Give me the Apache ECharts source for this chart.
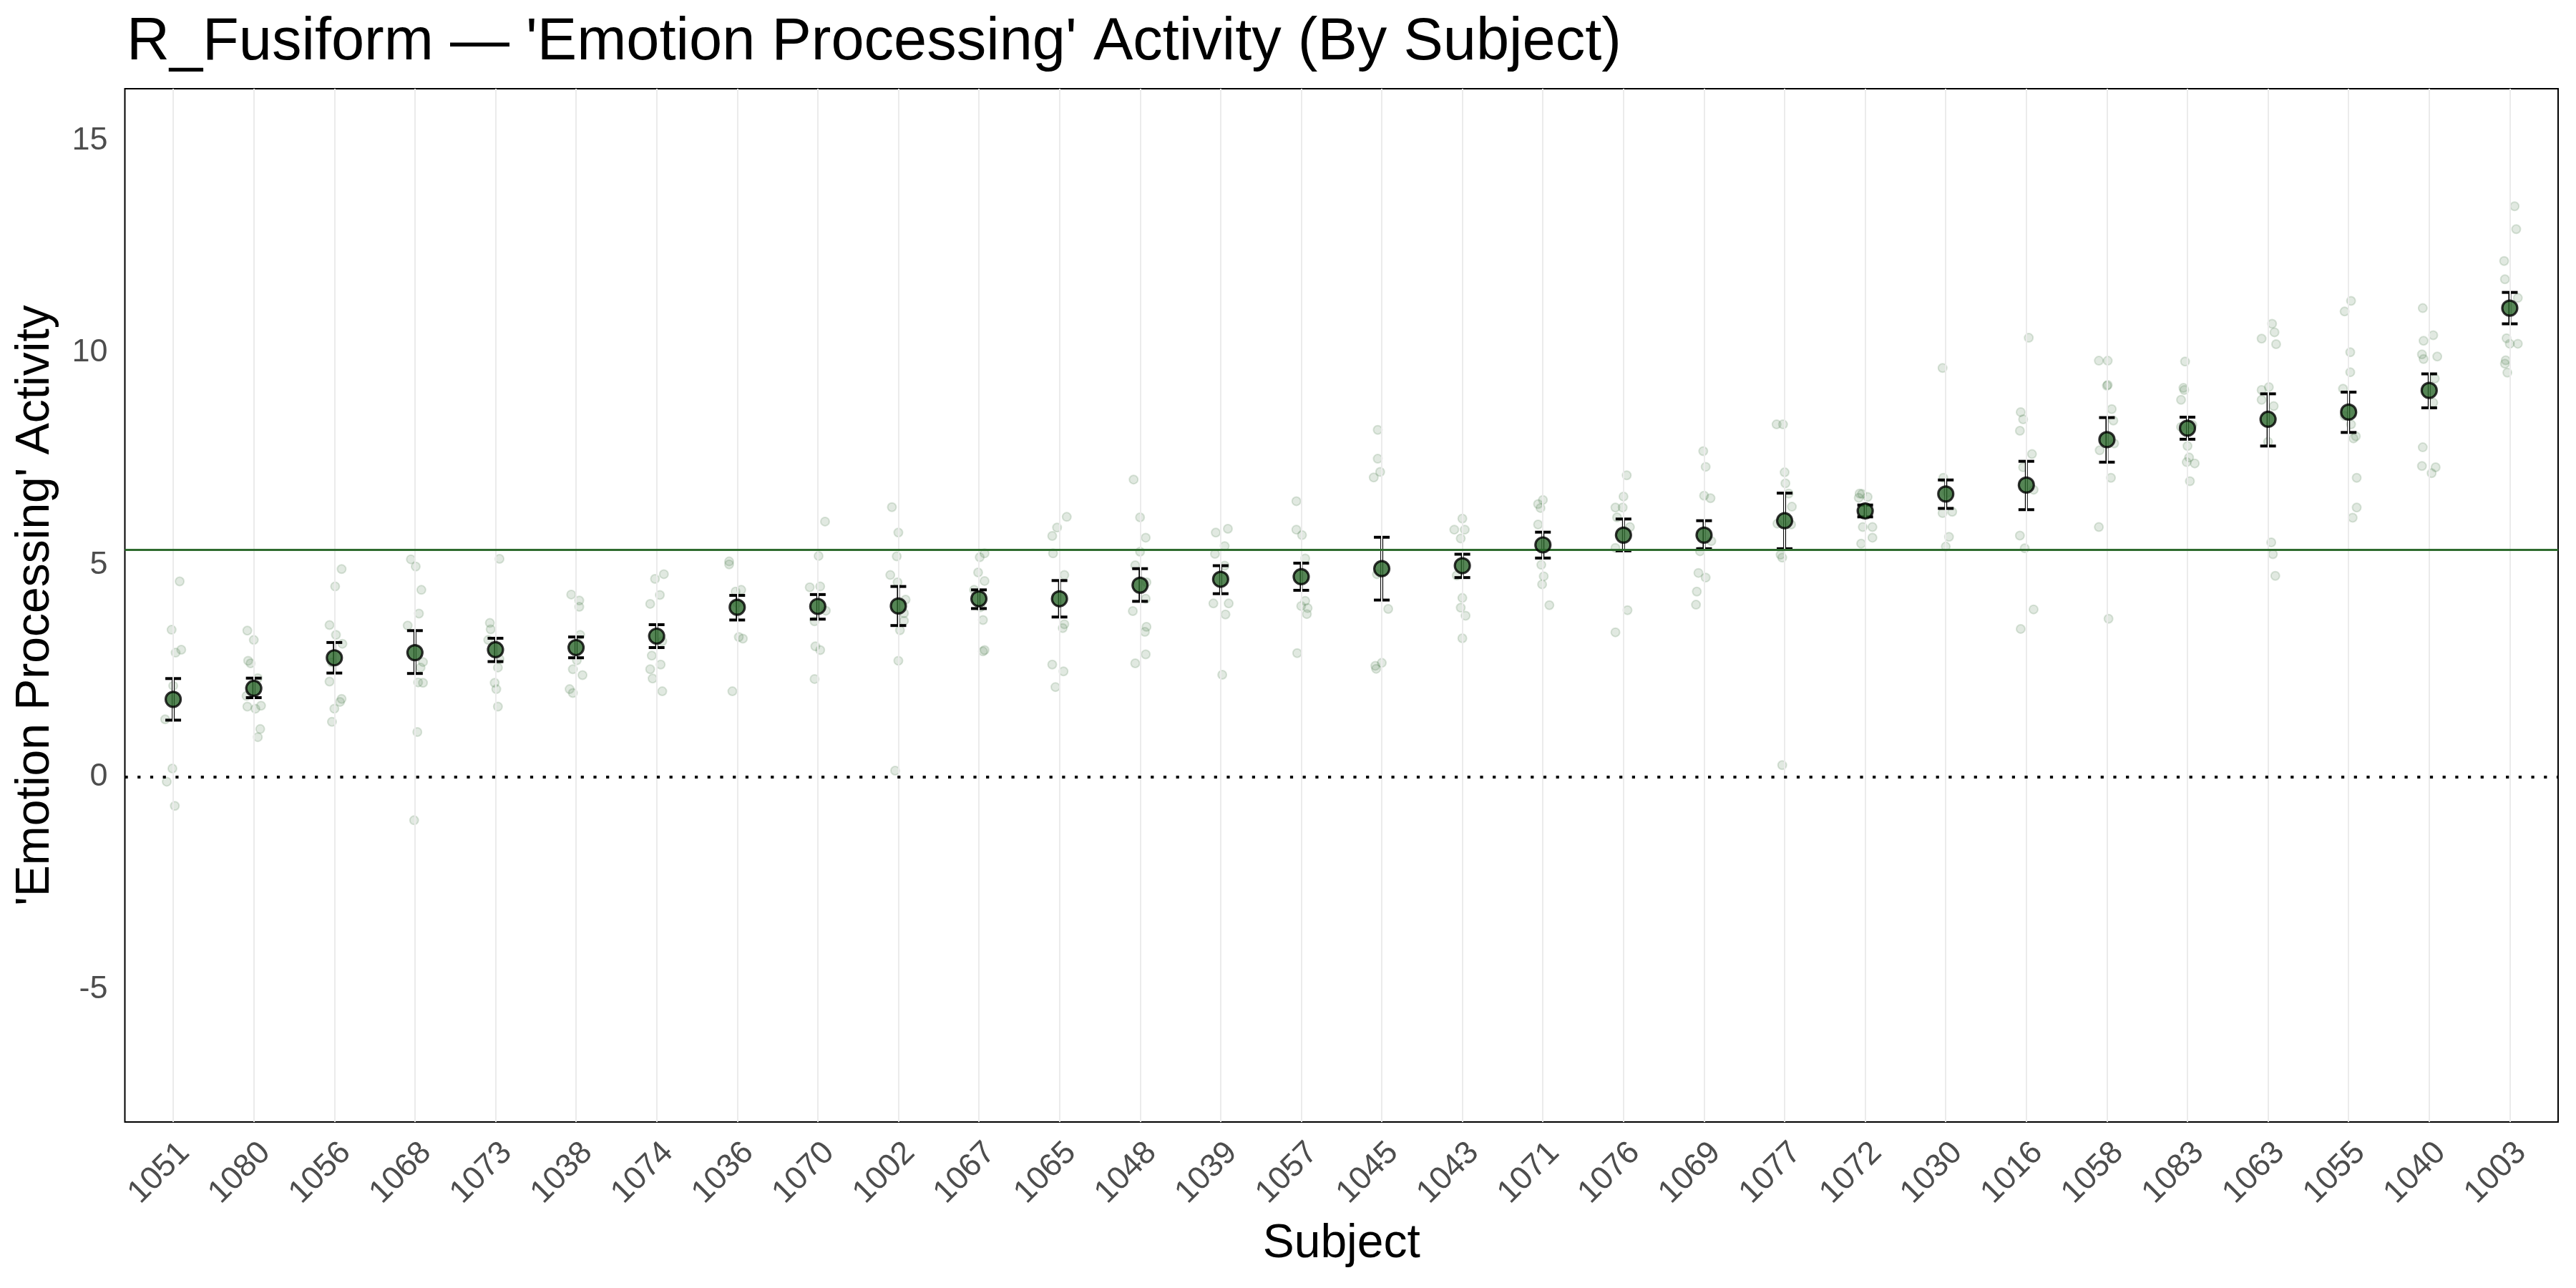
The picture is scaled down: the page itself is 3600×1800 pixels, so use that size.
<!DOCTYPE html>
<html>
<head>
<meta charset="utf-8">
<script src="https://cdn.jsdelivr.net/npm/echarts@6/dist/echarts.min.js"></script>
<style>
html,body{margin:0;padding:0;background:#fff;}
#chart{width:3600px;height:1800px;}
</style>
</head>
<body>
<div id="chart"></div>
<script>
// ---- data ----
const subjects = ['1051','1080','1056','1068','1073','1038','1074','1036','1070','1002','1067','1065','1048','1039','1057','1045','1043','1071','1076','1069','1077','1072','1030','1016','1058','1083','1063','1055','1040','1003'];
const means = [1.83,2.09,2.81,2.93,3.00,3.05,3.32,4.00,4.02,4.03,4.20,4.20,4.52,4.66,4.72,4.91,4.98,5.47,5.70,5.70,6.04,6.27,6.67,6.88,7.95,8.22,8.43,8.60,9.11,11.05];
const upper = [2.32,2.33,3.17,3.45,3.27,3.30,3.59,4.28,4.30,4.49,4.41,4.63,4.91,4.98,5.04,5.65,5.25,5.77,6.08,6.04,6.69,6.41,7.00,7.44,8.47,8.48,9.03,9.07,9.50,11.42];
const lower = [1.34,1.87,2.45,2.44,2.72,2.81,3.05,3.70,3.72,3.57,3.97,3.77,4.14,4.32,4.40,4.17,4.70,5.16,5.33,5.38,5.38,6.13,6.33,6.30,7.42,7.96,7.80,8.12,8.70,10.68];
const referenceLevel = 5.35;
const yTicks = [-5,0,5,10,15];
// individual observations per subject: [jitter offset, value]
const observations = [
 [[0.08,4.61],[-0.02,3.47],[0.03,2.93],[0.10,3.00],[0.00,2.15],[-0.10,1.36],[-0.01,0.20],[-0.08,-0.11],[0.02,-0.68]],
 [[-0.08,3.45],[0.00,3.23],[-0.07,2.74],[-0.04,2.68],[0.05,2.33],[-0.09,1.91],[-0.08,1.66],[0.02,1.61],[0.09,1.68],[0.08,1.13],[0.05,0.94]],
 [[0.09,4.90],[0.01,4.49],[-0.06,3.58],[0.02,3.35],[0.10,3.14],[-0.03,2.70],[-0.06,2.25],[0.09,1.84],[0.07,1.77],[0.00,1.61],[-0.03,1.30]],
 [[-0.05,5.13],[0.01,4.96],[0.08,4.41],[0.05,3.85],[-0.09,3.57],[0.10,2.71],[0.07,2.58],[0.04,2.23],[0.10,2.22],[0.03,1.06],[-0.01,-1.02]],
 [[0.05,5.14],[-0.07,3.63],[-0.06,3.48],[-0.09,3.23],[0.05,2.78],[0.03,2.58],[-0.01,2.22],[0.01,2.07],[0.03,1.66]],
 [[-0.06,4.30],[0.04,4.16],[0.04,4.01],[0.05,3.35],[0.01,2.75],[-0.04,2.54],[0.08,2.40],[-0.08,2.07],[-0.04,1.98]],
 [[0.09,4.78],[-0.02,4.67],[0.04,4.29],[-0.08,4.08],[0.07,3.20],[-0.06,2.86],[0.05,2.65],[-0.08,2.54],[-0.05,2.32],[0.07,2.02]],
 [[-0.10,5.08],[-0.10,5.01],[-0.02,4.37],[0.05,4.41],[0.02,3.30],[0.07,3.26],[-0.06,2.02],[0.00,4.10]],
 [[0.09,6.02],[0.01,5.21],[-0.10,4.47],[0.03,4.49],[0.10,3.92],[-0.04,3.67],[-0.03,3.08],[0.03,2.99],[-0.04,2.31]],
 [[-0.08,6.36],[0.00,5.76],[-0.02,5.20],[-0.10,4.76],[-0.01,4.59],[0.09,4.18],[0.07,3.86],[0.07,3.68],[0.02,3.46],[0.00,2.74],[-0.04,0.15]],
 [[0.07,5.27],[0.01,5.18],[-0.01,4.82],[0.07,4.62],[-0.06,4.41],[0.02,4.00],[0.05,3.70],[0.05,2.96],[0.07,2.99]],
 [[0.09,6.13],[-0.03,5.88],[-0.09,5.68],[-0.08,5.27],[0.06,4.76],[0.06,3.60],[0.04,3.51],[-0.09,2.65],[0.05,2.49],[-0.05,2.12]],
 [[-0.08,7.01],[0.00,6.12],[0.07,5.64],[0.00,5.31],[-0.06,4.99],[0.08,4.59],[0.07,4.20],[-0.09,3.91],[0.08,3.54],[0.06,3.42],[0.07,2.89],[-0.06,2.68]],
 [[-0.06,5.76],[0.09,5.85],[0.05,5.44],[-0.07,5.26],[0.05,4.98],[-0.09,4.09],[0.10,4.09],[0.06,3.83],[0.02,2.41]],
 [[-0.06,6.50],[-0.06,5.83],[0.01,5.70],[0.05,5.15],[0.05,4.15],[0.00,4.03],[0.08,3.98],[0.07,3.84],[-0.05,2.92]],
 [[-0.05,8.18],[-0.05,7.50],[-0.02,7.19],[-0.10,7.06],[-0.06,4.78],[0.08,3.96],[0.00,2.69],[-0.08,2.62],[-0.07,2.55]],
 [[0.00,6.09],[-0.10,5.83],[0.03,5.83],[-0.02,5.62],[-0.07,4.75],[0.00,4.22],[-0.02,3.99],[0.04,3.80],[0.00,3.27]],
 [[0.00,6.53],[-0.06,6.43],[-0.03,6.34],[-0.06,5.95],[-0.02,5.00],[0.01,4.73],[-0.01,4.54],[0.08,4.05]],
 [[0.04,7.11],[0.00,6.61],[-0.10,6.35],[-0.01,6.35],[-0.08,6.12],[0.08,5.89],[-0.10,5.40],[0.05,3.93],[-0.10,3.41]],
 [[-0.01,7.68],[0.02,7.31],[0.00,6.63],[0.08,6.57],[0.09,5.56],[-0.05,5.32],[-0.07,4.81],[0.02,4.70],[-0.09,4.37],[-0.10,4.06]],
 [[-0.10,8.31],[-0.02,8.31],[0.00,7.18],[0.01,6.92],[0.05,6.68],[0.09,6.37],[-0.09,5.97],[0.08,5.95],[-0.05,5.24],[-0.03,5.17],[-0.03,0.28]],
 [[-0.07,6.68],[-0.04,6.67],[0.03,6.60],[-0.08,6.58],[-0.03,5.89],[0.09,5.64],[-0.05,5.50],[0.09,5.89]],
 [[-0.04,9.64],[-0.03,7.05],[0.08,6.25],[-0.04,6.22],[0.04,5.66],[0.00,5.43],[0.02,6.70]],
 [[0.03,10.35],[-0.07,8.60],[-0.04,8.43],[-0.08,8.16],[0.07,7.61],[-0.04,7.30],[0.09,6.77],[-0.08,5.69],[-0.02,5.39],[0.09,3.95],[-0.07,3.49]],
 [[-0.10,9.81],[0.01,9.81],[0.00,9.22],[0.01,9.24],[0.06,8.67],[0.08,8.40],[0.09,7.86],[-0.09,7.70],[0.05,7.05],[-0.10,5.89],[0.02,3.73]],
 [[-0.03,9.79],[-0.05,9.17],[-0.04,9.12],[-0.08,8.89],[0.06,8.30],[-0.08,8.25],[0.00,7.80],[0.02,7.53],[-0.01,7.42],[0.09,7.39],[0.03,6.97]],
 [[0.05,10.68],[0.08,10.48],[-0.08,10.33],[0.10,10.20],[0.01,9.19],[-0.08,9.12],[-0.08,8.89],[0.07,8.74],[0.00,7.90],[0.04,5.53],[0.06,5.25],[0.09,4.74]],
 [[0.03,11.22],[-0.05,10.97],[0.02,10.01],[0.02,9.54],[-0.07,9.15],[-0.05,8.51],[0.03,8.31],[0.09,8.03],[0.06,7.98],[0.10,7.05],[0.10,6.35],[0.05,6.11]],
 [[-0.08,11.05],[0.05,10.41],[-0.07,10.28],[-0.09,9.96],[0.10,9.91],[-0.07,9.85],[0.07,9.39],[0.05,8.82],[-0.08,7.77],[-0.09,7.33],[0.08,7.30],[0.03,7.16]],
 [[0.06,13.45],[0.08,12.91],[-0.07,12.16],[-0.06,11.73],[0.10,11.29],[-0.04,10.34],[0.00,10.21],[0.10,10.21],[-0.05,9.82],[-0.06,9.74],[-0.03,9.53]]
];

// ---- build ----
const idx = subjects.map((s, i) => i);
const jitterData = [];
observations.forEach((obs, i) => obs.forEach(o => jitterData.push([i + o[0], o[1]])));
const meanData = means.map((m, i) => [i, m]);
const errData = means.map((m, i) => [i, lower[i], upper[i]]);

const FONT = "'Liberation Sans', Arial, Helvetica, sans-serif";
const chart = echarts.init(document.getElementById('chart'), null, {renderer: 'canvas'});
chart.setOption({
  animation: false,
  backgroundColor: '#ffffff',
  title: {
    text: "R_Fusiform \u2014 'Emotion Processing' Activity (By Subject)",
    left: 172, top: 14,
    textStyle: {fontFamily: FONT, fontSize: 83, fontWeight: 'normal', color: '#000'}
  },
  grid: {left: 174.5, right: 25, top: 124, bottom: 232, show: true, borderColor: '#000', borderWidth: 2, backgroundColor: 'transparent'},
  xAxis: {
    type: 'value', min: -0.6, max: 29.6,
    name: 'Subject', nameLocation: 'middle', nameGap: 138,
    nameTextStyle: {fontFamily: FONT, fontSize: 66, color: '#000'},
    axisLine: {show: false}, axisTick: {show: false}, splitLine: {show: false},
    axisLabel: {
      customValues: idx, rotate: 45, align: 'right', verticalAlign: 'top', margin: 20,
      fontFamily: FONT, fontSize: 45, color: '#4D4D4D', lineHeight: 45,
      formatter: v => subjects[Math.round(v)]
    }
  },
  yAxis: {
    type: 'value', min: -8.13, max: 16.22,
    name: "'Emotion Processing' Activity", nameLocation: 'middle', nameGap: 92,
    nameTextStyle: {fontFamily: FONT, fontSize: 66, color: '#000'},
    axisLine: {show: false}, axisTick: {show: false}, splitLine: {show: false},
    axisLabel: {customValues: yTicks, margin: 24, fontFamily: FONT, fontSize: 45, color: '#4D4D4D'}
  },
  series: [
    {
      name: 'grid', type: 'scatter', data: [], z: 1, silent: true,
      markLine: {
        silent: true, symbol: 'none', label: {show: false},
        lineStyle: {color: '#EBEBEB', width: 2, type: 'solid'},
        data: idx.map(i => ({xAxis: i}))
      }
    },
    {
      name: 'refs', type: 'scatter', data: [], z: 2, silent: true,
      markLine: {
        silent: true, symbol: 'none', label: {show: false},
        data: [
          {yAxis: referenceLevel, lineStyle: {color: '#2E6B2E', width: 2.8, type: 'solid', opacity: 1}},
          {yAxis: 0, lineStyle: {color: '#000', width: 4.2, type: [4.2, 13.5]}}
        ]
      }
    },
    {
      name: 'observations', type: 'scatter', data: jitterData, z: 3,
      symbol: 'circle', symbolSize: 12,
      itemStyle: {color: 'rgba(45,100,45,0.18)', borderColor: 'rgba(45,100,45,0.2)', borderWidth: 2}
    },
    {
      name: 'error', type: 'custom', data: errData, z: 4,
      renderItem: function (params, api) {
        const x = api.value(0);
        const lo = api.coord([x, api.value(1)]);
        const hi = api.coord([x, api.value(2)]);
        const hw = 11;
        const st = {stroke: '#000', lineWidth: 4};
        return {type: 'group', children: [
          {type: 'line', shape: {x1: lo[0], y1: lo[1], x2: hi[0], y2: hi[1]}, style: st},
          {type: 'line', shape: {x1: lo[0] - hw, y1: lo[1], x2: lo[0] + hw, y2: lo[1]}, style: st},
          {type: 'line', shape: {x1: hi[0] - hw, y1: hi[1], x2: hi[0] + hw, y2: hi[1]}, style: st}
        ]};
      }
    },
    {
      name: 'mean', type: 'scatter', data: meanData, z: 5,
      symbol: 'circle', symbolSize: 21,
      itemStyle: {color: '#2B662B', borderColor: '#000', borderWidth: 3.2}
    }
  ]
});
</script>
</body>
</html>
